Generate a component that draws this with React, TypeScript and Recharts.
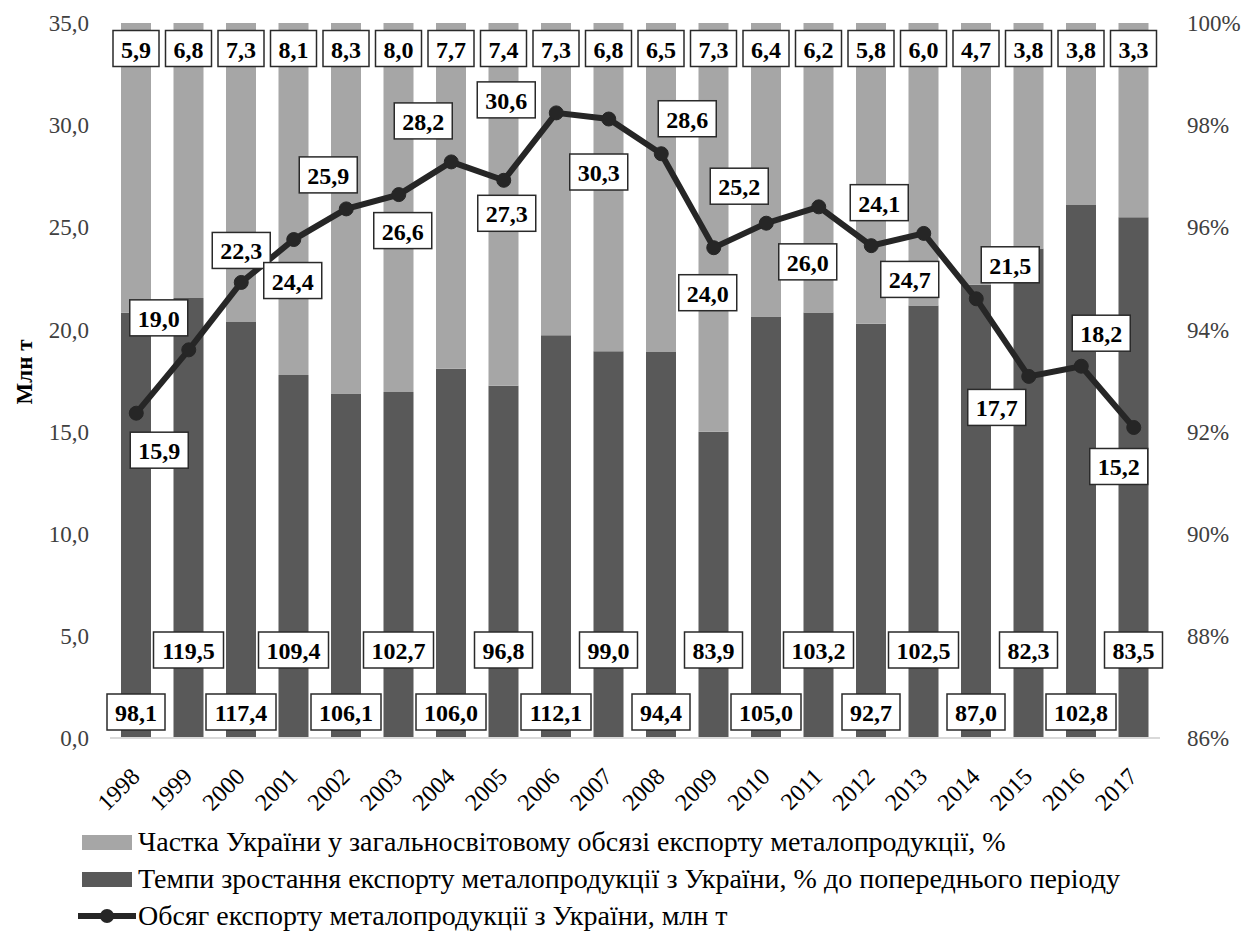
import { ComposedChart, Bar, Line, XAxis, YAxis, LabelList, Legend } from "recharts"

const years = [
  "1998", "1999", "2000", "2001", "2002", "2003", "2004", "2005", "2006", "2007",
  "2008", "2009", "2010", "2011", "2012", "2013", "2014", "2015", "2016", "2017",
]
// частка України у світовому експорті металопродукції, %
const worldShare = [5.9, 6.8, 7.3, 8.1, 8.3, 8.0, 7.7, 7.4, 7.3, 6.8, 6.5, 7.3, 6.4, 6.2, 5.8, 6.0, 4.7, 3.8, 3.8, 3.3]
// темпи зростання експорту, % до попереднього року
const growthRate = [98.1, 119.5, 117.4, 109.4, 106.1, 102.7, 106.0, 96.8, 112.1, 99.0, 94.4, 83.9, 105.0, 103.2, 92.7, 102.5, 87.0, 82.3, 102.8, 83.5]
// обсяг експорту, млн т
const exportVolume = [15.9, 19.0, 22.3, 24.4, 25.9, 26.6, 28.2, 27.3, 30.6, 30.3, 28.6, 24.0, 25.2, 26.0, 24.1, 24.7, 21.5, 17.7, 18.2, 15.2]

const volumeTicks = [0, 5, 10, 15, 20, 25, 30, 35]
const pctTicks = [0.86, 0.88, 0.9, 0.92, 0.94, 0.96, 0.98, 1]

const legendItems = [
  { name: "Частка України у загальносвітовому обсязі експорту металопродукції, %", kind: "bar", color: "#a6a6a6" },
  { name: "Темпи зростання експорту металопродукції з України, % до попереднього періоду", kind: "bar", color: "#595959" },
  { name: "Обсяг експорту металопродукції з України, млн т", kind: "line", color: "#262626" },
]

// 100% stacked columns: both parts normalised to their sum
const rows = years.map((year, i) => {
  const total = growthRate[i] + worldShare[i]
  return {
    year,
    growthPart: growthRate[i] / total,
    sharePart: worldShare[i] / total,
    growth: growthRate[i],
    share: worldShare[i],
    volume: exportVolume[i],
  }
})

const W = 1243
const H = 931
const TOP = 23
const PLOT_BOTTOM = 738
const FONT = "'Liberation Serif', 'Times New Roman', Tinos, 'DejaVu Serif', serif"

// label box offsets from the line points (dx, dy)
const volumeLabelShift: [number, number][] = [
  [23, 37], [-30, -32], [0, -32], [-1, 41], [-18, -34], [4, 36], [-28, -41], [3, 33], [-50, -13], [-10, 53],
  [26, -35], [-6, 45], [-27, -37], [-11, 55], [8, -43], [-14, 46], [34, -34], [-32, 31], [20, -33], [-15, 39],
]

const fmt = (v: number) => v.toFixed(1).replace(".", ",")

function ValueBox({ cx, cy, text }: { cx: number; cy: number; text: string }) {
  const w = text.split("").reduce((s, c) => s + (c === "," ? 6 : 12), 0) + 16
  return (
    <g>
      <rect x={cx - w / 2} y={cy - 18} width={w} height={36} fill="#fff" stroke="#2a2a2a" strokeWidth={1.5} />
      <text x={cx} y={cy + 1} textAnchor="middle" dominantBaseline="central"
        style={{ fontFamily: FONT }} fontWeight="bold" fontSize={24} fill="#000">
        {text}
      </text>
    </g>
  )
}

const shareLabel = (p: any) => {
  const vb = p.viewBox ?? p
  return <ValueBox cx={vb.x + vb.width / 2} cy={vb.y + 25.5} text={fmt(Number(p.value))} />
}

const growthLabel = (p: any) => {
  const vb = p.viewBox ?? p
  const lift = p.index % 2 === 0 ? 26 : 88
  return <ValueBox cx={vb.x + vb.width / 2} cy={PLOT_BOTTOM - lift} text={fmt(Number(p.value))} />
}

const volumeLabel = (p: any) => {
  const vb = p.viewBox ?? p
  const [dx, dy] = volumeLabelShift[p.index] ?? [0, -34]
  return <ValueBox cx={vb.x + dx} cy={vb.y + dy} text={fmt(Number(p.value))} />
}

function YearTick({ x, y, payload }: any) {
  return (
    <g transform={`translate(${x + 5},${y + 40})`}>
      <text transform="rotate(-45)" textAnchor="end" style={{ fontFamily: FONT }} fontSize={24} fill="#000">
        {payload.value}
      </text>
    </g>
  )
}

function LegendBlock() {
  return (
    <div style={{ fontFamily: FONT, fontSize: 28, color: "#000" }}>
      {legendItems.map((it) => (
        <div key={it.name} style={{ display: "flex", alignItems: "center", height: 37, whiteSpace: "nowrap" }}>
          <svg width={58} height={20} style={{ marginRight: 2 }}>
            {it.kind === "bar" ? (
              <rect x={4} y={3} width={50} height={15} fill={it.color} />
            ) : (
              <g>
                <line x1={0} y1={10} x2={58} y2={10} stroke={it.color} strokeWidth={6} />
                <circle cx={29} cy={10} r={7} fill={it.color} />
              </g>
            )}
          </svg>
          <span>{it.name}</span>
        </div>
      ))}
    </div>
  )
}

const tickStyle = { fontFamily: FONT, fontSize: 23, fill: "#404040" }

export default function App() {
  return (
    <div style={{ position: "absolute", left: 0, top: 0, width: W, height: H, background: "#fff", fontFamily: FONT }}>
      <ComposedChart width={W} height={H} data={rows} margin={{ top: TOP, right: 0, bottom: 133, left: 0 }}
        style={{ fontFamily: FONT }}>
        <XAxis dataKey="year" interval={0} height={60} tickLine={false} tickSize={0} tickMargin={0}
          axisLine={{ stroke: "#d9d9d9", strokeWidth: 2 }} tick={<YearTick />} />
        <YAxis yAxisId="mt" orientation="left" width={110} domain={[0, 35]} ticks={volumeTicks}
          allowDataOverflow axisLine={false} tickLine={false} tickSize={0} tickMargin={21}
          tickFormatter={fmt} tick={tickStyle}
          label={{
            content: () => (
              <text transform="translate(24,372) rotate(-90)" textAnchor="middle" dominantBaseline="central"
                style={{ fontFamily: FONT }} fontWeight="bold" fontSize={23} fill="#000">
                Млн т
              </text>
            ),
          }} />
        <YAxis yAxisId="pct" orientation="right" width={83} domain={[0.86, 1]} ticks={pctTicks}
          allowDataOverflow axisLine={false} tickLine={false} tickSize={0} tickMargin={27}
          tickFormatter={(v: number) => `${Math.round(v * 100)}%`} tick={tickStyle} />
        <Legend layout="horizontal" verticalAlign="middle" align="center"
          wrapperStyle={{ top: 823, left: 78, width: "auto" }} content={() => <LegendBlock />} />
        <Bar yAxisId="pct" dataKey="growthPart" stackId="s" fill="#595959" barSize={30} isAnimationActive={false}>
          <LabelList dataKey="growth" content={growthLabel} />
        </Bar>
        <Bar yAxisId="pct" dataKey="sharePart" stackId="s" fill="#a6a6a6" barSize={30} isAnimationActive={false}>
          <LabelList dataKey="share" content={shareLabel} />
        </Bar>
        <Line yAxisId="mt" dataKey="volume" type="linear" stroke="#262626" strokeWidth={6}
          dot={{ r: 7, fill: "#262626", stroke: "#262626", strokeWidth: 1 }} activeDot={false}
          isAnimationActive={false}>
          <LabelList dataKey="volume" content={volumeLabel} />
        </Line>
      </ComposedChart>
    </div>
  )
}
